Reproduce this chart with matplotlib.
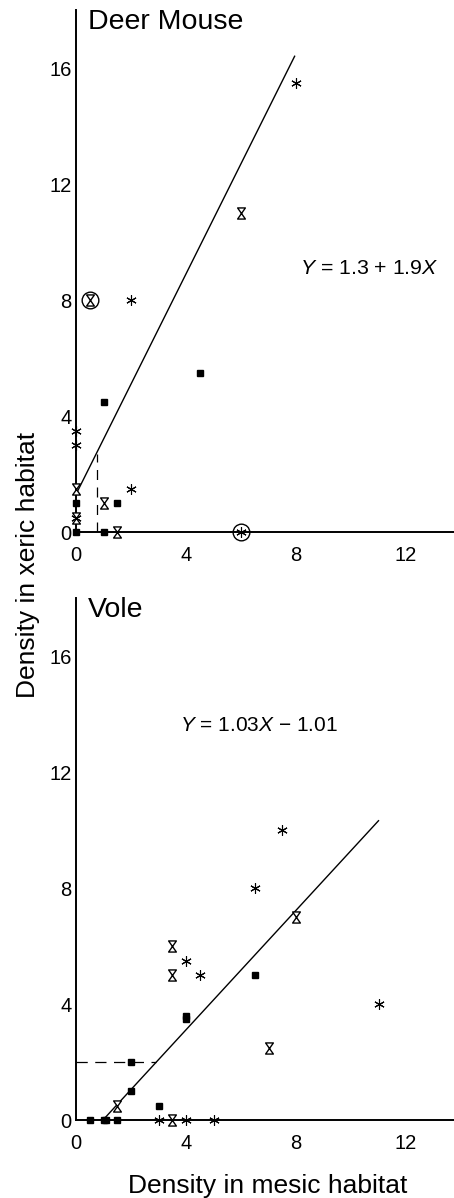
import matplotlib
matplotlib.use('Agg')
import matplotlib.pyplot as plt
from matplotlib.path import Path

plt.rcParams['font.family'] = ['Liberation Sans', 'DejaVu Sans']
plt.rcParams['mathtext.fontset'] = 'custom'
plt.rcParams['mathtext.rm'] = 'Liberation Sans'
plt.rcParams['mathtext.it'] = 'Liberation Sans:italic'

# Deer mouse data
dm_ast_x = [8, 2, 0, 0, 2, 0, 6]
dm_ast_y = [15.5, 8, 3.5, 3, 1.5, 0.5, 0]
dm_hg_x = [6, 0.5, 0, 1, 1.5, 0]
dm_hg_y = [11, 8, 1.5, 1, 0, 0.5]
dm_sq_x = [4.5, 1, 1.5, 0, 0, 1]
dm_sq_y = [5.5, 4.5, 1, 1, 0, 0]
dm_circ_x = [0.5, 6]
dm_circ_y = [8, 0]
dm_fit = (1.3, 1.9)
dm_fit_x = [0, 7.95]
dm_dash_x = [0.75, 0.75]
dm_dash_y = [0, 2.7]

# Vole data
vo_ast_x = [7.5, 6.5, 4, 4.5, 11, 3, 4, 5]
vo_ast_y = [10, 8, 5.5, 5, 4, 0, 0, 0]
vo_hg_x = [8, 3.5, 3.5, 7, 1.5, 3.5]
vo_hg_y = [7, 6, 5, 2.5, 0.5, 0]
vo_sq_x = [6.5, 4, 4, 2, 2, 3, 0.5, 1, 1.08, 1.5]
vo_sq_y = [5, 3.5, 3.6, 2, 1, 0.5, 0, 0, 0, 0]
vo_fit = (-1.01, 1.03)
vo_fit_x = [0.98, 11]
vo_dash_x = [0, 2.9]
vo_dash_y = [2, 2]

xticks = [0, 4, 8, 12]
yticks = [0, 4, 8, 12, 16]

hourglass = Path([(-0.7, 1), (0.7, 1), (-0.7, -1), (0.7, -1), (-0.7, 1)],
                 [Path.MOVETO, Path.LINETO, Path.LINETO, Path.LINETO, Path.CLOSEPOLY])
asterisk = (6, 2, 0)

fig = plt.figure(figsize=(4.54, 11.98), dpi=100)
W, H = 454, 1198
ax1 = fig.add_axes([76 / W, (H - 532) / H, (W - 76) / W, 522 / H])
ax2 = fig.add_axes([76 / W, (H - 1120) / H, (W - 76) / W, 522 / H])


def panel(ax, ast_x, ast_y, hg_x, hg_y, sq_x, sq_y, fit, fit_x):
    a, b = fit
    ax.plot(fit_x, [a + b * x for x in fit_x], color='black', lw=1.0, zorder=2)
    ax.plot(ast_x, ast_y, ls='none', marker=asterisk, ms=7.5, mew=0.8,
            color='black', zorder=3, clip_on=False)
    ax.plot(hg_x, hg_y, ls='none', marker=hourglass, ms=8, mew=1.0,
            mec='black', mfc='white', zorder=3, clip_on=False)
    ax.plot(sq_x, sq_y, ls='none', marker='s', ms=5, color='black',
            zorder=3, clip_on=False)
    ax.set_xlim(0, (W - 76) / 27.5)
    ax.set_ylim(0, 18)
    ax.set_xticks(xticks)
    ax.set_yticks(yticks)
    ax.tick_params(length=0, labelsize=14.5)
    ax.tick_params(axis='x', pad=10)
    ax.tick_params(axis='y', pad=3)
    for s in ['top', 'right']:
        ax.spines[s].set_visible(False)
    for s in ['left', 'bottom']:
        ax.spines[s].set_linewidth(1.4)


panel(ax1, dm_ast_x, dm_ast_y, dm_hg_x, dm_hg_y, dm_sq_x, dm_sq_y, dm_fit, dm_fit_x)
ax1.plot(dm_circ_x, dm_circ_y, ls='none', marker='o', ms=12, mfc='none',
         mec='black', mew=1.0, clip_on=False, zorder=4)
ax1.plot(dm_dash_x, dm_dash_y, color='black', lw=0.9, ls=(0, (8, 6)))
ax1.text(0.45, 17.6, 'Deer Mouse', fontsize=20.5, va='center', ha='left')
ax1.text(8.15, 9.1, '$Y$ = 1.3 + 1.9$X$', fontsize=15.3, va='center', ha='left')

panel(ax2, vo_ast_x, vo_ast_y, vo_hg_x, vo_hg_y, vo_sq_x, vo_sq_y, vo_fit, vo_fit_x)
ax2.plot(vo_dash_x, vo_dash_y, color='black', lw=0.9, ls=(0, (9, 6)))
ax2.text(0.45, 17.6, 'Vole', fontsize=20.5, va='center', ha='left')
ax2.text(3.78, 13.6, '$Y$ = 1.03$X$ \u2212 1.01', fontsize=15, va='center', ha='left')

fig.text(28 / W, (H - 565) / H, 'Density in xeric habitat', rotation=90,
         fontsize=19, ha='center', va='center')
fig.text(268 / W, (H - 1186) / H, 'Density in mesic habitat',
         fontsize=19, ha='center', va='center')

fig.savefig('out.png', dpi=100)
